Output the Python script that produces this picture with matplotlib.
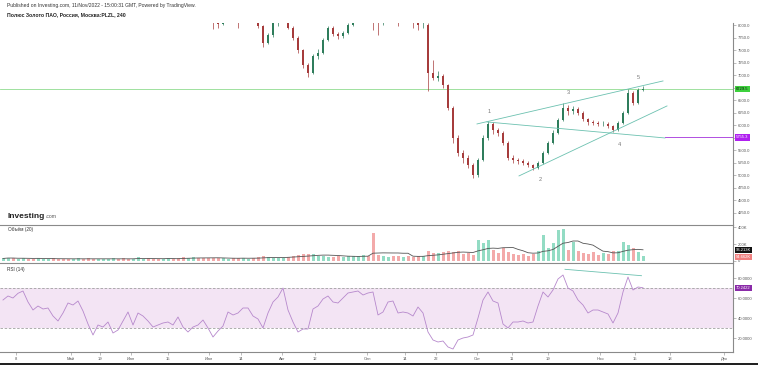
import numpy as np
import pandas as pd
import matplotlib
matplotlib.use("Agg")
import matplotlib.pyplot as plt
from matplotlib.patches import Rectangle

plt.rcParams['font.family'] = ['Liberation Sans', 'DejaVu Sans']

# PLZL, 4h candles (price above 8000 is off the visible scale)
first_open = 8500
closes = [
    8600, 8700, 8650, 8800, 8900, 8750, 8600, 8700, 8850, 8900,
    8800, 8650, 8500, 8450, 8600, 8700, 8550, 8400, 8350, 8500,
    8600, 8700, 8800, 8650, 8500, 8400, 8450, 8550, 8650, 8500,
    8350, 8300, 8400, 8500, 8450, 8350, 8250, 8300, 8400, 8350,
    8250, 8200, 8080, 8020, 8150, 8200, 8150, 8120, 8250, 8300,
    8200, 7980, 7650, 7800, 8050, 8200, 8300, 7950, 7750, 7500,
    7200, 7050, 7380, 7450, 7700, 7950, 7820, 7780, 7850, 8000,
    8150, 8200, 8300, 8250, 8100, 8050, 8150, 8250, 8200, 8100,
    8200, 8150, 8050, 8000, 8010, 7050, 6950, 6980, 6800, 6350,
    5750, 5450, 5350, 5200, 5000, 5300, 5750, 6020, 5900, 5850,
    5650, 5350, 5300, 5280, 5250, 5200, 5140, 5250, 5450, 5650,
    5850, 6100, 6350, 6280, 6320, 6250, 6120, 6060, 6050, 6020,
    6030, 5980, 5900, 6050, 6250, 6650, 6450, 6700, 6729.5,
]
highs = [
    8680, 8760, 8750, 8850, 8960, 8940, 8790, 8740, 8890, 8950,
    8930, 8830, 8680, 8540, 8640, 8750, 8730, 8580, 8440, 8540,
    8650, 8740, 8850, 8830, 8680, 8530, 8490, 8590, 8690, 8680,
    8530, 8390, 8440, 8540, 8530, 8480, 8380, 8340, 8440, 8430,
    8380, 8290, 8230, 8120, 8190, 8240, 8230, 8190, 8290, 8340,
    8330, 8230, 8010, 7850, 8090, 8240, 8340, 8320, 7980, 7780,
    7530, 7240, 7420, 7520, 7740, 7990, 7980, 7860, 7890, 8050,
    8190, 8240, 8340, 8330, 8280, 8130, 8190, 8290, 8280, 8230,
    8240, 8230, 8180, 8090, 8100, 8050, 7300, 7080, 7020, 6830,
    6380, 5800, 5500, 5400, 5250, 5350, 5800, 6080, 6060, 5950,
    5880, 5680, 5400, 5350, 5320, 5290, 5230, 5290, 5490, 5690,
    5900, 6150, 6450, 6400, 6380, 6360, 6280, 6150, 6110, 6090,
    6080, 6060, 6010, 6090, 6290, 6720, 6680, 6740, 6790,
]
lows = [
    8450, 8560, 8600, 8620, 8770, 8700, 8560, 8570, 8660, 8820,
    8760, 8610, 8460, 8400, 8420, 8570, 8510, 8360, 8300, 8320,
    8470, 8570, 8670, 8610, 8460, 8360, 8370, 8420, 8520, 8460,
    8310, 8250, 8270, 8370, 8410, 8310, 8200, 8220, 8270, 8310,
    8200, 8150, 7930, 7950, 8000, 8120, 8090, 7950, 8100, 8220,
    8170, 7950, 7560, 7620, 7760, 7990, 8170, 7920, 7700, 7450,
    7150, 6960, 7020, 7330, 7420, 7680, 7780, 7730, 7740, 7830,
    7980, 8120, 8170, 8200, 7900, 7800, 8000, 8120, 8160, 7980,
    8070, 8110, 7950, 7900, 7950, 6680, 6900, 6880, 6750, 6300,
    5650, 5380, 5250, 5150, 4950, 4970, 5280, 5700, 5830, 5780,
    5600, 5300, 5250, 5230, 5200, 5160, 5110, 5120, 5230, 5420,
    5620, 5820, 6080, 6200, 6230, 6200, 6080, 6010, 6000, 5980,
    5990, 5940, 5860, 5880, 6020, 6230, 6400, 6420, 6680,
]
# volume, thousands
volumes = [
    25, 35, 30, 20, 28, 18, 22, 30, 15, 20, 25, 18, 22, 15, 20, 30, 18, 25, 20, 15, 22,
    18, 25, 20, 28, 15, 22, 40, 18, 25, 20, 15, 22, 30, 20, 25, 45, 35, 40, 30, 25,
    30, 25, 35, 28, 20, 30, 25, 35, 22, 30, 40, 55, 45, 35, 30, 25, 45, 60, 70, 80,
    85, 75, 60, 50, 45, 40, 50, 45, 55, 60,
    50, 65, 55, 330, 70, 55, 45, 60, 50, 40, 55, 45, 50, 60,
    110, 95, 90, 105, 120, 100, 115, 85, 90, 70,
    250, 210, 250,
    130, 90, 150, 100, 80, 70, 75, 60, 85,
    110, 310, 150, 210, 370, 380,
    130, 230, 110, 90, 80, 100, 70, 95, 85, 110,
    120, 230, 190, 150, 100, 55,
]
rsi = [
    58, 62, 60, 64.7, 67, 56, 48, 52, 49, 50,
    42, 37, 45, 55, 53, 57, 47, 34, 23, 33,
    31, 36, 25, 28, 37, 46, 33, 45, 42, 37,
    31, 33, 35, 36, 33, 41, 31, 26, 31, 33,
    38, 30, 21, 27, 32, 46, 43, 45, 50, 50,
    42, 39, 30, 45, 56, 61, 70, 48, 36, 26,
    29, 29, 49, 52, 59, 62, 56, 55, 60, 65,
    66, 67, 63, 65, 66, 43, 46, 56, 57, 45,
    46, 45, 42, 51, 45, 26, 18, 16, 17, 11,
    9, 18, 20, 21, 23, 40, 58, 66, 57, 55,
    34, 30, 36, 36, 37, 35, 36, 52, 66, 61,
    68, 79, 83, 70, 67, 58, 53, 45, 48, 48,
    46, 44, 35, 45, 66, 81, 68, 71, 70.24,
]

x_ticks = [2.6, 13.6, 19.4, 25.6, 33, 41.2, 47.6, 55.8, 62.4, 72.8,
           80.4, 86.6, 94.8, 101.8, 109, 119.4, 126.4, 133.4, 144.2]
x_labels = ['8', 'Май', '19', 'Июн', '15', 'Июл', '14', 'Авг', '12', 'Сен',
            '14', '22', 'Окт', '11', '19', 'Ноя', '15', '18', 'Дек']

# drawn trend lines (bar index, price)
upper_line = [(94.8, 6026), (132, 6888)]
lower_line = [(103.2, 4984), (132.8, 6387)]
neck_line = [(96.8, 6066), (132.4, 5745)]
wave_labels = [('1', 97.2, 6267), ('2', 107.4, 4904), ('3', 113, 6647),
               ('4', 123.2, 5605), ('5', 127, 6948)]
rsi_line = [(112.4, 88.7), (127.7, 82.3)]
last_price = 6729.5
level_price = 5755.3

idx = np.arange(len(closes))
c = np.array(closes)
o = np.r_[first_open, c[:-1]]
h = np.array(highs)
lo = np.array(lows)
up = c >= o

UP, DN = '#2f7d5c', '#a63c3c'
VUP, VDN = '#93dcc4', '#f3aaaa'
TEAL = '#6cc1b0'
AXC = '#8a8a8a'
TXT = '#555555'

W, H = 758, 365
fig = plt.figure(figsize=(W / 100, H / 100), dpi=100)


def box(top, bottom):
    return [0, 1 - bottom / H, 733 / W, (bottom - top) / H]


ax_p = fig.add_axes(box(23, 225))
ax_v = fig.add_axes(box(225, 263), sharex=ax_p)
ax_r = fig.add_axes(box(263, 352), sharex=ax_p)

for ax in (ax_p, ax_v, ax_r):
    for s in ax.spines.values():
        s.set_visible(False)
    ax.spines['right'].set_visible(True)
    ax.spines['right'].set_color(AXC)
    ax.spines['right'].set_linewidth(0.8)
    ax.yaxis.tick_right()
    ax.tick_params(axis='y', labelsize=3, length=2, width=0.4, colors=AXC,
                   labelcolor=TXT, pad=1.5)
    ax.tick_params(axis='x', bottom=False, labelbottom=False)
for ax in (ax_v, ax_r):
    ax.spines['top'].set_visible(True)
    ax.spines['top'].set_color(AXC)
    ax.spines['top'].set_linewidth(0.8)
ax_r.spines['bottom'].set_visible(True)
ax_r.spines['bottom'].set_color(AXC)
ax_r.spines['bottom'].set_linewidth(0.8)

ax_p.set_xlim(-0.6, 146)

# candles
cols = np.where(up, UP, DN)
ax_p.vlines(idx, lo, h, colors=cols, lw=0.5, zorder=2)
body_b = np.minimum(o, c)
body_h = np.maximum(np.abs(c - o), 6)
ax_p.bar(idx, body_h, bottom=body_b, width=0.45, color=cols, lw=0, zorder=3)

ax_p.axhline(last_price, color='#8fdc8f', lw=0.6, zorder=1)
for ln in (upper_line, lower_line, neck_line):
    (x0, y0), (x1, y1) = ln
    ax_p.plot([x0, x1], [y0, y1], color=TEAL, lw=0.6, zorder=4)
ax_p.plot([neck_line[1][0], 146], [level_price, level_price], color='#b04ee0',
          lw=0.7, zorder=4)
for t, xx, yy in wave_labels:
    ax_p.text(xx, yy, t, fontsize=4, color='#777777', ha='center', va='center')

ax_p.set_ylim(4000, 8050)
p_ticks = np.arange(4250, 8001, 250)
ax_p.set_yticks(p_ticks)
# labels under the price tags are hidden, as on the chart
ax_p.set_yticklabels(['' if v in (5750, 6750) else f'{v:.1f}' for v in p_ticks])


def tag(ax, y, text, bg, fg='white'):
    ax.text(1.004, y, text, transform=ax.get_yaxis_transform(), ha='left',
            va='center', fontsize=3, color=fg, clip_on=False, zorder=10,
            bbox=dict(boxstyle='square,pad=0.3', fc=bg, ec='none'))


tag(ax_p, last_price, f'{last_price:.1f}', '#3dd13d', '#111111')
tag(ax_p, level_price, f'{level_price:.1f}', '#b020f0')

# volume
vol = np.array(volumes, dtype=float)
ax_v.bar(idx, vol, width=0.6, color=np.where(up, VUP, VDN), lw=0)
vma = pd.Series(vol).rolling(8, min_periods=1).mean()
ax_v.plot(idx, vma, color='#555555', lw=0.6)
ax_v.set_ylim(-30, 430)
ax_v.set_yticks([0, 200, 400])
ax_v.set_yticklabels(['0', '200K', '400K'])
tag(ax_v, 128, '96.213K', '#111111')
tag(ax_v, 45, '54.662K', '#f08080')

# RSI
ax_r.axhspan(30, 70, color='#f3e4f4', lw=0, zorder=0)
for lvl in (30, 70):
    ax_r.axhline(lvl, color='#a0a0a0', lw=0.6, ls=(0, (3, 2)), zorder=1)
ax_r.plot(idx, rsi, color='#b688cc', lw=0.6, zorder=3)
(x0, y0), (x1, y1) = rsi_line
ax_r.plot([x0, x1], [y0, y1], color=TEAL, lw=0.6, zorder=4)
ax_r.set_ylim(6, 95)
ax_r.set_yticks([20, 40, 60, 80])
ax_r.set_yticklabels([f'{v:.4f}' for v in (20, 40, 60, 80)])
tag(ax_r, 70.2422, '70.2422', '#8a2aa8')

ax_r.set_xticks(x_ticks)
ax_r.set_xticklabels(x_labels)
ax_r.tick_params(axis='x', bottom=True, labelbottom=True, labelsize=3,
                 length=2, width=0.4, colors=AXC, labelcolor=TXT, pad=1.5)

# texts
fig.text(7 / W, 1 - 6 / H,
         'Published on Investing.com, 11/Nov/2022 - 15:00:31 GMT, Powered by TradingView.',
         fontsize=3.6, color='#333333', va='center')
fig.text(7 / W, 1 - 14.5 / H, 'Полюс Золото ПАО, Россия, Москва:PLZL, 240',
         fontsize=3.7, color='#222222', va='center', fontweight='bold')
fig.text(8 / W, 1 - 216 / H, 'Investing', fontsize=6, fontweight='bold',
         color='#222222', va='center')
fig.text(46 / W, 1 - 217 / H, '.com', fontsize=3.6, color='#555555', va='center')
fig.text(8 / W, 1 - 230 / H, 'Объём (20)', fontsize=3.4, color='#333333', va='center')
fig.text(7 / W, 1 - 270 / H, 'RSI (14)', fontsize=3.4, color='#333333', va='center')

fig.add_artist(Rectangle((0, 0), 1, 2.5 / H, transform=fig.transFigure,
                         color='#222222', lw=0))

fig.savefig('out.png', dpi=100)
